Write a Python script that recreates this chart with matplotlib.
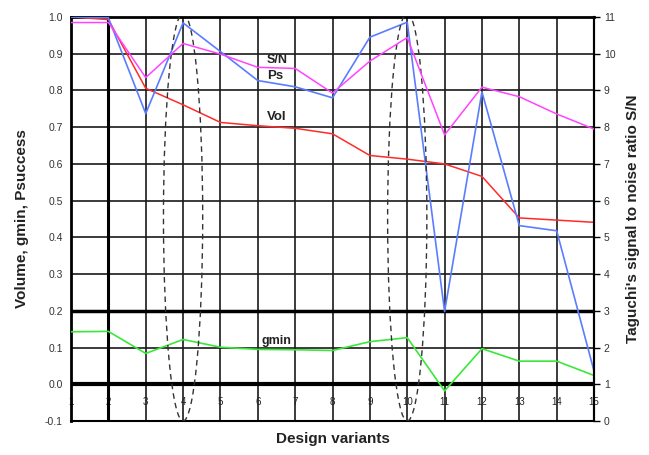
import matplotlib.pyplot as plt
from matplotlib.patches import Ellipse

plt.rcParams['font.family'] = ['Liberation Sans', 'DejaVu Sans']
plt.rcParams['axes.unicode_minus'] = False

# Data
variants = list(range(1, 16))
vol = [1.0, 0.993, 0.806, 0.761, 0.713, 0.704, 0.697, 0.682, 0.623, 0.613,
       0.600, 0.566, 0.453, 0.447, 0.441]
ps = [1.0, 0.998, 0.737, 0.984, 0.906, 0.827, 0.810, 0.780, 0.945, 0.986,
      0.198, 0.796, 0.432, 0.418, 0.036]
gmin = [0.143, 0.144, 0.084, 0.122, 0.101, 0.095, 0.094, 0.092, 0.116, 0.127,
        -0.018, 0.097, 0.063, 0.063, 0.024]
sn = [10.85, 10.85, 9.35, 10.28, 9.99, 9.63, 9.60, 8.93, 9.80, 10.44,
      7.79, 9.09, 8.83, 8.36, 7.95]
marked = [4, 10]

fig = plt.figure(figsize=(6.49, 4.55), dpi=100)
ax = fig.add_axes([0.1094, 0.0747, 0.8059, 0.8879])
ax2 = ax.twinx()

ax.set_xlim(1, 15)
ax.set_ylim(-0.1, 1.0)
ax2.set_ylim(0, 11)

# grid
ax.set_xticks(variants)
ax.set_yticks([i / 10 for i in range(-1, 11)])
ax.grid(True, color='#1a1a1a', linewidth=1.2)
ax.axhline(0.0, color='black', linewidth=3, zorder=1)
ax.axhline(0.2, color='black', linewidth=2.5, zorder=1)
ax.axvline(2, color='black', linewidth=2.2, zorder=1)
ax.set_axisbelow(True)

ax.plot(variants, vol, color='#ff2b2b', linewidth=1.1, zorder=3)
ax.plot(variants, ps, color='#5a7dff', linewidth=1.2, zorder=3)
ax.plot(variants, gmin, color='#3ae83a', linewidth=1.2, zorder=3)
ax2.plot(variants, sn, color='#ff44ff', linewidth=1.1, zorder=3)

for m in marked:
    ax.add_patch(Ellipse((m, 0.455), 1.05, 1.11, fill=False,
                         linestyle=(0, (4, 3)), edgecolor='#333333',
                         linewidth=1.0, zorder=4))

ax.text(6.25, 0.876, 'S/N', fontsize=9, fontweight='bold', color='#222222')
ax.text(6.25, 0.830, 'Ps', fontsize=9.5, fontweight='bold', color='#222222')
ax.text(6.25, 0.720, 'Vol', fontsize=9.5, fontweight='bold', color='#222222')
ax.text(6.1, 0.110, 'gmin', fontsize=9, fontweight='bold', color='#222222')

for s in ['left', 'top']:
    ax.spines[s].set_linewidth(2)
ax.spines['bottom'].set_linewidth(1.5)
ax.spines['right'].set_linewidth(1.5)
for s in ax2.spines.values():
    s.set_visible(False)
ax2.spines['right'].set_visible(True)
ax2.spines['right'].set_linewidth(1.5)

ax.tick_params(axis='x', length=0, pad=-17, labelsize=7, labelcolor='#222222')
ax.tick_params(axis='y', length=0, pad=6, labelsize=7.5, labelcolor='#333333')
ax2.set_yticks(range(0, 12))
ax2.tick_params(axis='y', length=4, width=1, pad=3, labelsize=7.5,
                labelcolor='#333333')

ax.set_xlabel('Design variants', fontsize=11, fontweight='bold',
              color='#222222')
ax.xaxis.set_label_coords(0.5, -0.028)
ax.set_ylabel('Volume, gmin, Psuccess', fontsize=11, fontweight='bold',
              labelpad=11, color='#222222')
ax2.set_ylabel("Taguchi's signal to noise ratio S/N", fontsize=11,
               fontweight='bold', labelpad=8, color='#222222')

fig.savefig('out.png', dpi=100)
